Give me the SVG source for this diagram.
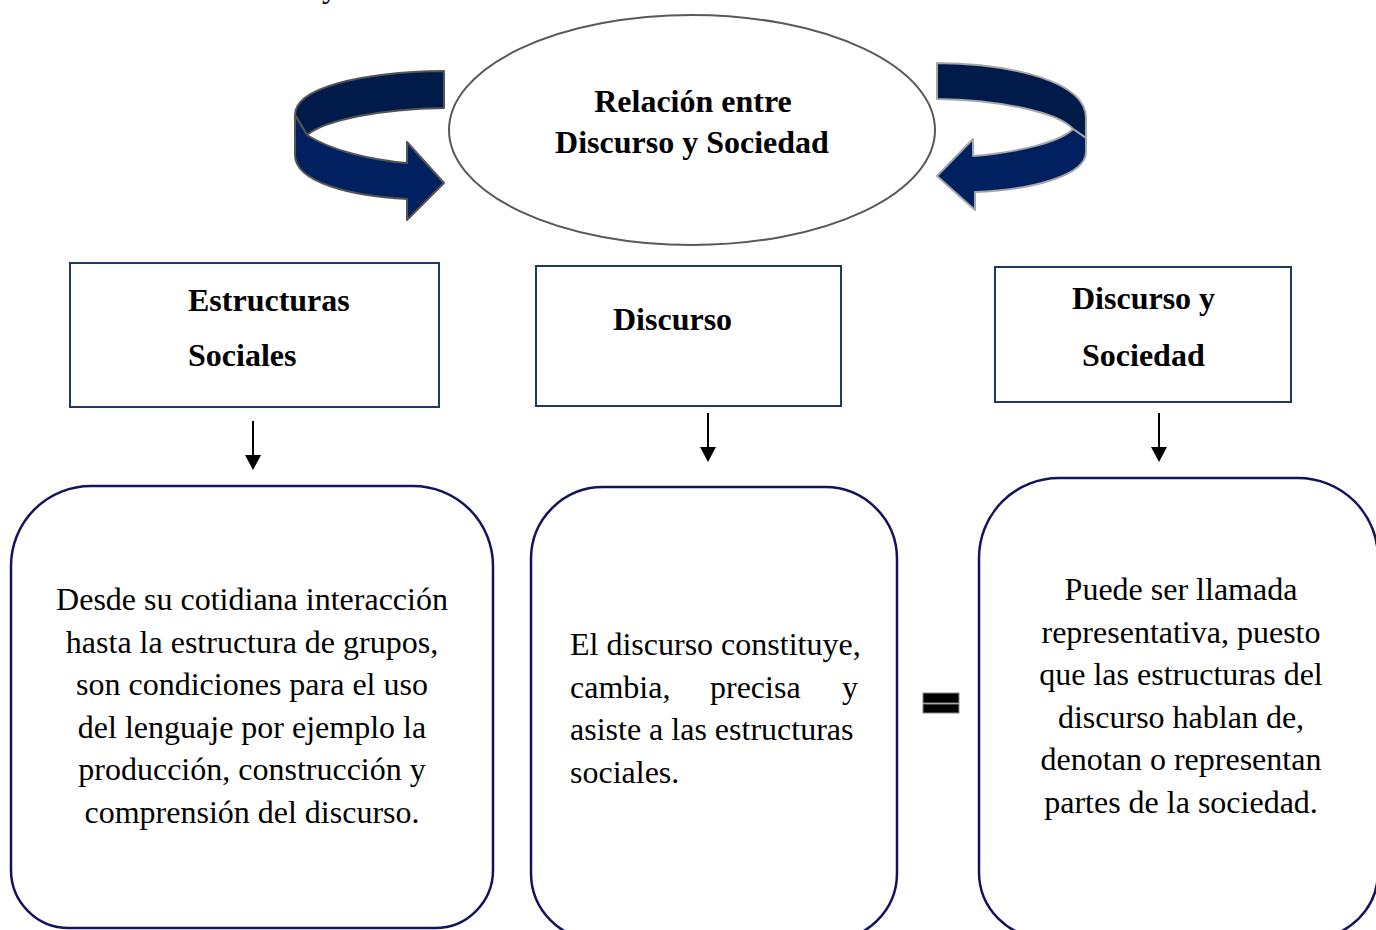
<svg xmlns="http://www.w3.org/2000/svg" width="1376" height="930" viewBox="0 0 1376 930">
<defs>
<style>
.t{font-family:"Liberation Serif","Times New Roman",serif;font-size:32px;fill:#000}
.b{font-weight:bold}
.m{text-anchor:middle}
.box{fill:#fff;stroke:#1f3864;stroke-width:2}
.rbox{fill:#fff;stroke:#14145e;stroke-width:2.5}
.conn{stroke:#000;stroke-width:2;fill:none}
.bandA{fill:#001a4a}
.bandB{fill:#002060}
</style>
<marker id="ah" markerWidth="16" markerHeight="16" viewBox="0 0 16 16" refX="8" refY="14" orient="auto" markerUnits="userSpaceOnUse">
<path d="M0,0 L16,0 L8,16 Z" fill="#000" transform="rotate(-90 8 8)"/>
</marker>
<marker id="ah2" markerWidth="16" markerHeight="16" viewBox="0 0 16 16" refX="15" refY="8" orient="auto" markerUnits="userSpaceOnUse">
<path d="M0,0 L16,8 L0,16 Z" fill="#000"/>
</marker>
</defs>
<rect width="1376" height="930" fill="#fff"/>
<text class="t" x="322" y="-3">y</text>

<g id="cycle-left">
<path class="bandA" d="M444,71 C360,72 295,88 295,115 L307,135 C325,120 380,109 444,108 Z" stroke="#555" stroke-width="2" stroke-linejoin="round"/>
<path class="bandB" d="M295,115 L307,135 C330,150 370,160 407,163 L407,142 L444,183 L407,220 L407,199 C350,196 295,182 295,155 Z" stroke="#555" stroke-width="2" stroke-linejoin="round"/>
</g>
<g id="cycle-right">
<path class="bandA" d="M937,63 C1015,64 1086,82 1086,118 L1086,138 L1073,129 C1058,112 1000,100 937,99 Z" stroke="#a6a6a6" stroke-width="2" stroke-linejoin="round"/>
<path class="bandB" d="M1073,129 L1086,138 L1086,152 C1086,176 1030,190 975,192 L975,210 L937,176 L973,139 L973,156 C1020,152 1060,142 1073,129 Z" stroke="#a6a6a6" stroke-width="2" stroke-linejoin="round"/>
</g>

<g id="title">
<ellipse cx="692" cy="130" rx="243" ry="115" fill="#fff" stroke="#595959" stroke-width="2"/>
<text class="t b m" x="693" y="112">Relación entre</text>
<text class="t b m" x="692" y="153">Discurso y Sociedad</text>
</g>

<g id="estructuras-sociales">
<rect class="box" x="70" y="263" width="369" height="144"/>
<text class="t b" x="188" y="311">Estructuras</text>
<text class="t b" x="188" y="366">Sociales</text>
</g>
<g id="discurso">
<rect class="box" x="536" y="266" width="305" height="140"/>
<text class="t b" x="613" y="330">Discurso</text>
</g>
<g id="discurso-sociedad">
<rect class="box" x="995" y="267" width="296" height="135"/>
<text class="t b" x="1072" y="309">Discurso y</text>
<text class="t b" x="1082" y="366">Sociedad</text>
</g>

<g id="connectors">
<line class="conn" x1="253" y1="421" x2="253" y2="456"/>
<path d="M245,455 L261,455 L253,470 Z" fill="#000"/>
<line class="conn" x1="708" y1="413" x2="708" y2="448"/>
<path d="M700,447 L716,447 L708,462 Z" fill="#000"/>
<line class="conn" x1="1159" y1="413" x2="1159" y2="448"/>
<path d="M1151,447 L1167,447 L1159,462 Z" fill="#000"/>
</g>

<g id="desc-estructuras">
<path class="rbox" d="M91,486 H413 A80,80 0 0 1 493,566 V870 A58,58 0 0 1 435,928 H69 A58,58 0 0 1 11,870 V566 A80,80 0 0 1 91,486 Z"/>
<text class="t m" x="252" y="610">Desde su cotidiana interacción</text>
<text class="t m" x="252" y="652.5">hasta la estructura de grupos,</text>
<text class="t m" x="252" y="695">son condiciones para el uso</text>
<text class="t m" x="252" y="737.5">del lenguaje por ejemplo la</text>
<text class="t m" x="252" y="780">producción, construcción y</text>
<text class="t m" x="252" y="822.5">comprensión del discurso.</text>
</g>

<g id="desc-discurso">
<path class="rbox" d="M603,487 H825 A72,72 0 0 1 897,559 V873 A67,67 0 0 1 830,940 H598 A67,67 0 0 1 531,873 V559 A72,72 0 0 1 603,487 Z"/>
<text class="t" x="570" y="655">El discurso constituye,</text>
<text class="t" x="570" y="697.5">cambia,</text>
<text class="t" x="710" y="697.5">precisa</text>
<text class="t" x="858" y="697.5" text-anchor="end">y</text>
<text class="t" x="570" y="740">asiste a las estructuras</text>
<text class="t" x="570" y="782.5">sociales.</text>
</g>

<g id="equals">
<rect x="923" y="693" width="36" height="10" fill="#000" stroke="#888" stroke-width="1"/>
<rect x="923" y="704" width="36" height="9" fill="#000" stroke="#888" stroke-width="1"/>
</g>

<g id="desc-sociedad">
<path class="rbox" d="M1059,478 H1298 A80,80 0 0 1 1378,558 V872 A66,66 0 0 1 1312,938 H1045 A66,66 0 0 1 979,872 V558 A80,80 0 0 1 1059,478 Z"/>
<text class="t m" x="1181" y="600">Puede ser llamada</text>
<text class="t m" x="1181" y="642.5">representativa, puesto</text>
<text class="t m" x="1181" y="685">que las estructuras del</text>
<text class="t m" x="1181" y="727.5">discurso hablan de,</text>
<text class="t m" x="1181" y="770">denotan o representan</text>
<text class="t m" x="1181" y="812.5">partes de la sociedad.</text>
</g>
</svg>
